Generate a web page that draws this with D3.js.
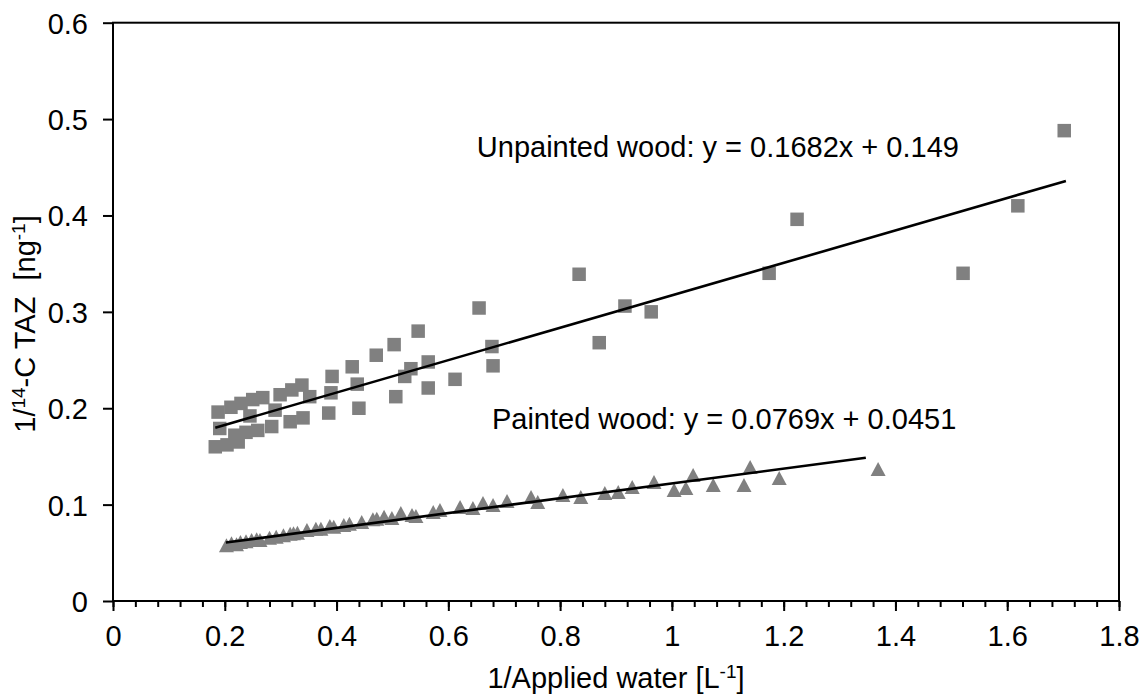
<!DOCTYPE html>
<html><head><meta charset="utf-8">
<script src="https://cdn.jsdelivr.net/npm/d3@7"></script>
<style>
body{margin:0;background:#fff}
svg{display:block}
text{font-family:"Liberation Sans",Arial,Helvetica,sans-serif;fill:#000;white-space:pre}
</style>
</head><body>
<svg id="chart" width="1146" height="696"></svg>
<script>
// ---- data ----
const unpaintedX = [0.188,0.211,0.229,0.250,0.268,0.299,0.320,0.338,0.352,
  0.191,0.218,0.238,0.259,0.284,0.317,0.340,
  0.183,0.204,0.224,0.245,0.290,
  0.392,0.390,0.386,0.428,0.437,0.440,0.471,0.503,0.506,0.522,0.533,0.546,0.564,0.564,
  0.612,0.655,0.678,0.680,0.834,0.870,0.916,0.963,1.174,1.224,1.521,1.619,1.702];
const unpaintedY = [0.196,0.201,0.205,0.209,0.211,0.214,0.219,0.224,0.212,
  0.179,0.172,0.175,0.177,0.181,0.186,0.190,
  0.160,0.162,0.165,0.192,0.198,
  0.233,0.216,0.195,0.243,0.225,0.200,0.255,0.266,0.212,0.233,0.241,0.280,0.248,0.221,
  0.230,0.304,0.264,0.244,0.339,0.268,0.306,0.300,0.340,0.396,0.340,0.410,0.488];

const paintedX = [0.203,0.212,0.221,0.228,0.238,0.248,0.257,0.263,0.280,0.292,0.305,0.317,0.323,0.330,
  0.347,0.363,0.372,0.388,0.395,0.413,0.423,0.445,0.465,0.472,0.485,0.499,0.515,0.535,0.542,
  0.573,0.585,0.621,0.644,0.662,0.680,0.705,0.748,0.760,0.805,0.837,0.880,0.904,0.929,0.968,
  1.004,1.025,1.038,1.074,1.129,1.140,1.192,1.369];
const paintedY = [0.0578,0.0599,0.0588,0.0612,0.0619,0.0633,0.0640,0.0633,0.0657,0.0667,0.0682,0.0698,0.0702,0.0709,
  0.0737,0.0750,0.0750,0.0778,0.0771,0.0789,0.0802,0.0820,0.0848,0.0854,0.0875,0.0861,0.0913,0.0892,0.0882,
  0.0923,0.0944,0.0975,0.0965,0.1017,0.0996,0.1038,0.1079,0.1027,0.1100,0.1079,0.1121,0.1131,0.1183,0.1235,
  0.1152,0.1172,0.1307,0.1204,0.1204,0.1390,0.1276,0.1370];

const fitNames = ["Unpainted wood: y = 0.1682x + 0.149", "Painted wood: y = 0.0769x + 0.0451"];
const fitSlopes = [0.1682, 0.0769];
const fitIntercepts = [0.149, 0.0451];
const fitStartX = [0.183, 0.202];
const fitEndX = [1.705, 1.347];

const xTicks = [0,0.2,0.4,0.6,0.8,1,1.2,1.4,1.6,1.8];
const xTickLabels = ["0","0.2","0.4","0.6","0.8","1","1.2","1.4","1.6","1.8"];
const yTicks = [0,0.1,0.2,0.3,0.4,0.5,0.6];
const yTickLabels = ["0","0.1","0.2","0.3","0.4","0.5","0.6"];

// ---- layout ----
const svg = d3.select("#chart");
const L = 113, R = 1119, T = 22.7, B = 601;
const FS = 29;
const x = d3.scaleLinear().domain([0,1.8]).range([L,R]);
const y = d3.scaleLinear().domain([0,0.6]).range([B,T]);
const grey = "#808080";

// minor x ticks
const minor = d3.range(0, 1.8001, 0.04).map(v => +v.toFixed(2));
svg.append("g").attr("transform",`translate(0,${B})`)
  .call(d3.axisBottom(x).tickValues(minor).tickSize(6).tickFormat(""))
  .call(g => g.select(".domain").remove())
  .call(g => g.selectAll("line").attr("stroke","#000").attr("stroke-width",2));

// major x axis
svg.append("g").attr("transform",`translate(0,${B})`)
  .call(d3.axisBottom(x).tickValues(xTicks).tickSize(10).tickFormat((d,i)=>xTickLabels[i]))
  .call(g => g.select(".domain").remove())
  .call(g => g.selectAll("line").attr("stroke","#000").attr("stroke-width",2))
  .call(g => g.selectAll("text").attr("y",45).attr("dy",null)
      .style("font-size",FS+"px").style("font-family",'"Liberation Sans",Arial,sans-serif').attr("fill","#000"));

// y axis
svg.append("g").attr("transform",`translate(${L},0)`)
  .call(d3.axisLeft(y).tickValues(yTicks).tickSize(10).tickFormat((d,i)=>yTickLabels[i]))
  .call(g => g.select(".domain").remove())
  .call(g => g.selectAll("line").attr("stroke","#000").attr("stroke-width",2))
  .call(g => g.selectAll("text").attr("x",-25).attr("dy","0.36em")
      .style("font-size",FS+"px").style("font-family",'"Liberation Sans",Arial,sans-serif').attr("fill","#000"));

// plot frame
svg.append("rect").attr("x",L).attr("y",T).attr("width",R-L).attr("height",B-T)
  .attr("fill","none").attr("stroke","#000").attr("stroke-width",2);

// markers: squares
const S = 13.5;
svg.append("g").selectAll("rect").data(unpaintedX.map((v,i)=>[v,unpaintedY[i]])).join("rect")
  .attr("x",d=>x(d[0])-S/2).attr("y",d=>y(d[1])-S/2).attr("width",S).attr("height",S)
  .attr("fill",grey);

// markers: triangles
const TW = 15, TH = 14;
svg.append("g").selectAll("path").data(paintedX.map((v,i)=>[v,paintedY[i]])).join("path")
  .attr("d",d=>{const cx=x(d[0]), cy=y(d[1]);
    return `M${cx},${cy-TH/2}L${cx+TW/2},${cy+TH/2}L${cx-TW/2},${cy+TH/2}Z`;})
  .attr("fill",grey);

// trendlines
const fits = fitSlopes.map((s,i)=>({s, b:fitIntercepts[i], x0:fitStartX[i], x1:fitEndX[i]}));
svg.append("g").selectAll("line").data(fits).join("line")
  .attr("x1",d=>x(d.x0)).attr("y1",d=>y(d.s*d.x0+d.b))
  .attr("x2",d=>x(d.x1)).attr("y2",d=>y(d.s*d.x1+d.b))
  .attr("stroke","#000").attr("stroke-width",2.6);

// equation labels
const labelPos = [[0.651,0.4607],[0.678,0.1785]];
svg.append("g").selectAll("text").data(fitNames).join("text")
  .attr("x",(d,i)=>x(labelPos[i][0])).attr("y",(d,i)=>y(labelPos[i][1]))
  .style("font-size",FS+"px").text(d=>d);

// x axis title
const xt = svg.append("text").attr("x",(L+R)/2).attr("y",688).attr("text-anchor","middle")
  .style("font-size",FS+"px");
xt.append("tspan").text("1/Applied water [L");
xt.append("tspan").attr("baseline-shift","super").style("font-size","19px").text("-1");
xt.append("tspan").text("]");

// y axis title
const yt = svg.append("text").attr("transform","translate(35,324) rotate(-90)")
  .attr("text-anchor","middle").style("font-size",FS+"px");
yt.append("tspan").text("1/");
yt.append("tspan").attr("baseline-shift","super").style("font-size","19px").text("14");
yt.append("tspan").text("-C TAZ  [ng");
yt.append("tspan").attr("baseline-shift","super").style("font-size","19px").text("-1");
yt.append("tspan").text("]");
</script>
</body></html>
